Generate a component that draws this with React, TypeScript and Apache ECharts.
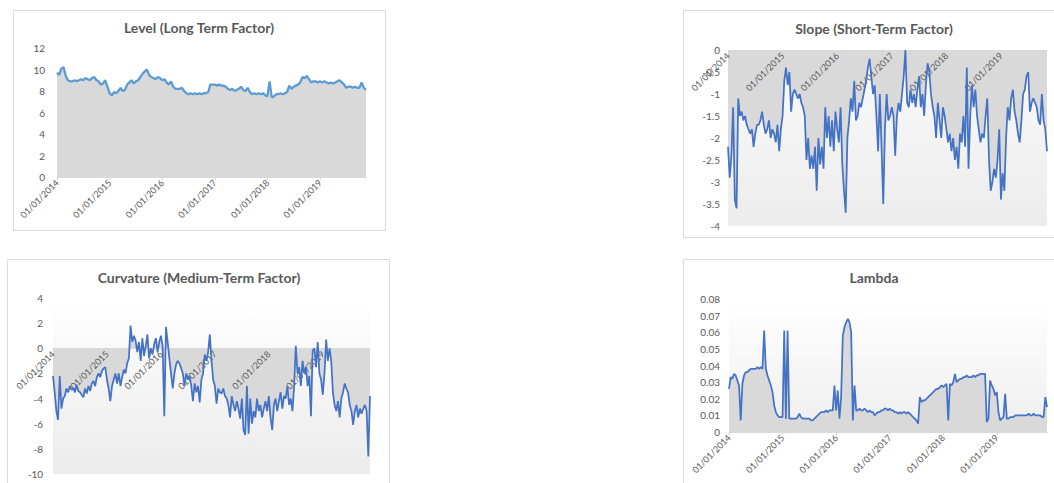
import React, { useEffect, useRef } from "react";
import * as echarts from "echarts";

const START_YEAR = 2014;
const YEAR_TICKS = [2014, 2015, 2016, 2017, 2018, 2019];

const LEVEL_PER_YEAR = 24;
const levelValues = [
  // 2014
  9.7, 9.5, 10.1, 10.2, 9.4, 9.0, 8.9, 8.9, 9.0, 8.9, 9.0, 9.1, 9.0, 9.2, 9.1, 9.0, 9.2, 9.3, 9.0, 8.9, 8.6, 8.7, 9.0, 8.4,
  // 2015
  7.8, 7.6, 7.9, 7.8, 8.0, 8.3, 8.0, 8.1, 8.6, 8.8, 9.0, 8.7, 8.9, 9.0, 9.3, 9.6, 9.8, 10.0, 9.5, 9.3, 9.2, 9.1, 9.3, 9.2,
  // 2016
  9.0, 9.1, 8.8, 8.6, 8.9, 8.4, 8.2, 8.2, 8.2, 8.3, 8.0, 7.8, 7.7, 7.8, 7.7, 7.8, 7.7, 7.8, 7.7, 7.8, 7.8, 7.9, 8.6, 8.6,
  // 2017
  8.6, 8.5, 8.6, 8.5, 8.5, 8.4, 8.2, 8.1, 8.2, 8.0, 8.1, 8.2, 8.4, 8.1, 8.0, 8.3, 7.9, 7.7, 7.8, 7.7, 7.8, 7.7, 7.8, 7.6,
  // 2018
  7.5, 8.9, 7.4, 7.5, 7.7, 7.7, 7.8, 7.7, 7.8, 7.9, 8.5, 8.2, 8.4, 8.5, 8.6, 8.8, 9.3, 9.2, 9.4, 9.1, 8.8, 8.9, 8.9, 8.8,
  // 2019
  8.9, 8.8, 8.9, 8.8, 8.7, 8.8, 8.7, 8.8, 8.9, 9.0, 8.8, 8.6, 8.3, 8.4, 8.4, 8.3, 8.4, 8.3, 8.3, 8.8, 8.3, 8.1,
];

const SLOPE_PER_YEAR = 32;
const slopeValues = [
  // 2014
  -2.2, -2.9, -2.4, -1.3, -3.4, -3.6, -1.1, -1.5, -1.4, -1.6, -1.5, -1.7, -1.8, -1.9, -1.8, -2.2,
  -1.9, -1.7, -1.7, -1.6, -1.4, -1.7, -1.9, -1.8, -1.6, -2.0, -1.8, -1.9, -2.1, -1.7, -2.3, -1.8,
  // 2015
  -1.5, -0.7, -0.4, -0.8, -0.5, -1.4, -1.0, -0.9, -1.0, -1.1, -1.0, -1.2, -1.3, -1.5, -2.5, -2.0,
  -2.7, -2.4, -2.7, -2.2, -3.2, -2.0, -2.6, -2.2, -2.7, -1.3, -2.0, -1.5, -2.2, -1.6, -2.3, -1.4,
  // 2016
  -1.8, -2.1, -1.3, -2.6, -3.2, -3.7, -2.0, -1.6, -1.1, -1.4, -0.7, -1.6, -1.5, -1.2, -1.3, -1.1,
  -0.9, -0.7, -0.4, -0.2, -0.6, -1.0, -0.8, -1.5, -2.3, -1.0, -2.2, -3.5, -1.8, -1.0, -1.6, -1.5,
  // 2017
  -1.3, -1.5, -2.4, -1.5, -1.2, -1.4, -1.0, -0.6, 0.0, -1.2, -1.3, -0.9, -1.2, -1.0, -1.3, -0.9,
  -0.6, -1.3, -1.0, -1.5, -0.8, -0.3, -0.5, -1.0, -1.3, -1.5, -2.0, -1.2, -1.6, -2.0, -1.3, -1.5,
  // 2018
  -1.8, -2.1, -1.9, -2.3, -2.0, -2.5, -2.2, -2.7, -1.9, -2.1, -1.5, -2.2, -0.4, -2.7, -1.5, -0.8,
  -1.3, -0.9, -1.5, -1.8, -2.1, -1.9, -2.0, -1.5, -1.1, -2.5, -3.2, -3.0, -2.7, -2.9, -2.5, -1.8,
  // 2019
  -3.4, -2.8, -3.2, -2.0, -1.3, -1.6, -1.1, -0.9, -1.4, -1.6, -1.9, -2.1, -1.6, -1.0,
  -0.9, -0.6, -0.5, -1.4, -1.2, -1.1, -1.2, -1.3, -1.6, -1.7, -1.0, -1.6, -1.8, -2.3,
];

const CURV_PER_YEAR = 32;
const curvatureValues = [
  // 2014
  -2.2, -3.5, -5.0, -5.7, -2.2, -4.8, -4.0, -3.8, -3.2, -3.5, -3.0, -3.3, -3.2, -3.5, -2.9, -3.4,
  -3.5, -3.7, -3.9, -3.2, -3.6, -3.0, -3.4, -2.8, -2.6, -3.0, -2.3, -2.0, -2.3, -1.8, -1.6, -1.5,
  // 2015
  -2.5, -3.2, -4.2, -3.0, -2.5, -2.0, -2.8, -2.0, -3.0, -2.3, -1.7, -2.0, -1.2, -0.8, 1.8, 0.5,
  1.0, 0.6, -0.3, 0.5, -1.0, 0.8, -0.6, 0.2, 1.1, -0.8, 0.0, -0.5, 0.3, 0.8, -0.3, 0.5,
  // 2016
  1.0, 0.2, -5.4, 1.7, 0.5, -0.8, -2.0, -3.2, -2.0, -1.3, -1.0, -1.2, -1.6, -2.0, -3.0, -2.0,
  -2.5, -2.2, -3.0, -4.2, -2.8, -3.5, -3.0, -4.3, -2.5, -2.0, -0.5, -1.0, -0.3, 1.1, -1.0, -2.5,
  // 2017
  -3.0, -4.4, -3.2, -3.5, -3.6, -3.2, -3.8, -4.0, -4.5, -5.5, -3.8, -4.5, -5.0, -4.2, -4.8, -5.6,
  -4.0, -6.5, -6.9, -3.0, -6.8, -4.0, -6.0, -5.0, -5.5, -4.0, -5.0, -4.5, -5.5, -4.8, -4.2, -5.0,
  // 2018
  -3.8, -5.5, -6.5, -4.5, -4.0, -5.0, -4.2, -3.5, -4.8, -3.8, -4.0, -3.0, -4.5, -4.0, -5.0, -3.0,
  0.2, -2.0, -1.5, -3.0, -1.0, -2.0, -1.5, -3.0, -2.2, -5.4, -0.2, 0.0, -1.5, 0.5, -2.0, -2.5,
  // 2019
  -3.7, -2.0, 0.7, -1.0, 0.0, -1.0, -3.5, -4.5, -5.0, -4.2, -5.5, -4.0, -3.5, -2.8, -3.2,
  -3.5, -4.5, -5.0, -6.1, -5.0, -4.5, -5.5, -4.8, -5.2, -4.8, -4.5, -5.0, -8.6, -3.8,
];

const LAMBDA_PER_YEAR = 32;
const lambdaValues = [
  // 2014
  0.026, 0.033, 0.032, 0.035, 0.034, 0.031, 0.028, 0.007, 0.029, 0.034, 0.036, 0.036, 0.037, 0.038, 0.038, 0.038,
  0.038, 0.039, 0.038, 0.039, 0.038, 0.061, 0.038, 0.034, 0.031, 0.028, 0.024, 0.016, 0.012, 0.010, 0.009, 0.009,
  // 2015
  0.009, 0.061, 0.008, 0.061, 0.008, 0.008, 0.008, 0.008, 0.008, 0.009, 0.011, 0.009, 0.008, 0.008, 0.008, 0.008,
  0.008, 0.007, 0.007, 0.008, 0.009, 0.010, 0.011, 0.012, 0.012, 0.012, 0.013, 0.012, 0.013, 0.013, 0.013, 0.028,
  // 2016
  0.013, 0.025, 0.008, 0.021, 0.058, 0.063, 0.066, 0.068, 0.066, 0.060, 0.007, 0.028, 0.013, 0.013, 0.014, 0.013,
  0.013, 0.014, 0.013, 0.012, 0.013, 0.012, 0.012, 0.010, 0.011, 0.012, 0.012, 0.013, 0.013, 0.014, 0.014, 0.013,
  // 2017
  0.014, 0.013, 0.013, 0.012, 0.012, 0.011, 0.012, 0.011, 0.012, 0.012, 0.011, 0.012, 0.011, 0.010, 0.009, 0.008,
  0.007, 0.005, 0.021, 0.018, 0.019, 0.019, 0.020, 0.021, 0.022, 0.023, 0.024, 0.025, 0.026, 0.026, 0.027, 0.028,
  // 2018
  0.027, 0.028, 0.029, 0.007, 0.029, 0.028, 0.030, 0.035, 0.030, 0.031, 0.032, 0.032, 0.033, 0.033, 0.034, 0.033,
  0.033, 0.033, 0.034, 0.033, 0.034, 0.034, 0.035, 0.035, 0.035, 0.035, 0.006, 0.008, 0.031, 0.028, 0.026, 0.022,
  // 2019
  0.024, 0.012, 0.007, 0.008, 0.009, 0.023, 0.008, 0.008, 0.009, 0.009, 0.009, 0.010, 0.010, 0.010, 0.010, 0.010,
  0.010, 0.010, 0.010, 0.011, 0.010, 0.010, 0.011, 0.010, 0.010, 0.010, 0.010, 0.009, 0.009, 0.021, 0.015,
];

const TITLES = [
  "Level (Long Term Factor)",
  "Slope (Short-Term Factor)",
  "Curvature (Medium-Term Factor)",
  "Lambda",
];

// ---- Styling / layout ----
const FONT = "Lato, 'Open Sans', 'Noto Sans', sans-serif";
const TEXT_COLOR = "#595959";
const BORDER = "#d9d9d9";
const AREA = "#d9d9d9";

function toXY(values: number[], perYear: number) {
  return values.map((v, i) => [START_YEAR + i / perYear, v]);
}

function bgGradient(top: string, bottom: string) {
  return new echarts.graphic.LinearGradient(0, 0, 0, 1, [
    { offset: 0, color: top },
    { offset: 1, color: bottom },
  ]);
}

const yearLabel = (v: number) =>
  YEAR_TICKS.includes(Math.round(v)) && Math.abs(v - Math.round(v)) < 1e-6
    ? "01/01/" + Math.round(v)
    : "";

export default function App() {
  const ref = useRef<HTMLDivElement>(null);

  useEffect(() => {
    if (!ref.current) return;
    const chart = echarts.init(ref.current, undefined, { renderer: "svg" });

    const panels = [
      {
        grid: { left: 57, top: 48, width: 309, height: 129 },
        y: { min: 0, max: 12, interval: 2, margin: 12 },
        data: toXY(levelValues, LEVEL_PER_YEAR),
        color: "#5b9bd5",
        width: 2.25,
        bg: null as any,
      },
      {
        grid: { left: 728, top: 50, width: 319, height: 176 },
        y: { min: -4, max: 0, interval: 0.5, margin: 8 },
        data: toXY(slopeValues, SLOPE_PER_YEAR),
        color: "#4472c4",
        width: 1.75,
        bg: bgGradient("#fafafa", "#ececec"),
      },
      {
        grid: { left: 53, top: 298, width: 317, height: 176 },
        y: { min: -10, max: 4, interval: 2, margin: 10 },
        data: toXY(curvatureValues, CURV_PER_YEAR),
        color: "#4472c4",
        width: 1.75,
        bg: bgGradient("#ffffff", "#ebebeb"),
      },
      {
        grid: { left: 729, top: 299, width: 318, height: 133 },
        y: { min: 0, max: 0.08, interval: 0.01, margin: 9 },
        data: toXY(lambdaValues, LAMBDA_PER_YEAR),
        color: "#4472c4",
        width: 1.75,
        bg: bgGradient("#ffffff", "#eeeeee"),
      },
    ];

    // the horizontal axis sits at value 0 (Excel "axis crosses at 0")
    const zeroY = panels.map(
      (p) => p.grid.top + (p.grid.height * p.y.max) / (p.y.max - p.y.min)
    );
    const xMax = panels.map((p) => p.data[p.data.length - 1][0]);

    const boxes = [
      { x: 13.5, y: 10.5, w: 372, h: 220 },
      { x: 683.5, y: 10.5, w: 400, h: 227 },
      { x: 7.5, y: 259.5, w: 382, h: 260 },
      { x: 683.5, y: 259.5, w: 400, h: 260 },
    ];
    const titlePos = [
      [199, 27],
      [874, 28],
      [199, 277],
      [874, 277],
    ];

    const mainGrids = panels.map((p) => ({
      ...p.grid,
      containLabel: false,
      outerBoundsMode: "none",
      show: !!p.bg,
      backgroundColor: p.bg || "transparent",
      borderWidth: 0,
    }));
    // thin strips whose bottom edge is the zero line: they carry the date axis
    const axisGrids = panels.map((p, k) => ({
      left: p.grid.left,
      width: p.grid.width,
      top: zeroY[k] - 10,
      height: 10,
      containLabel: false,
      outerBoundsMode: "none",
      show: false,
    }));

    const hiddenX = panels.map((p, k) => ({
      type: "value",
      gridIndex: k,
      min: START_YEAR,
      max: xMax[k],
      interval: 1,
      show: false,
    }));
    const dateAxes = panels.map((p, k) => ({
      type: "value",
      gridIndex: 4 + k,
      position: "bottom",
      z: 20,
      min: START_YEAR,
      max: xMax[k],
      interval: 1,
      axisLine: { show: true, onZero: false, lineStyle: { color: BORDER, width: 1 } },
      axisTick: { show: true, length: 3, lineStyle: { color: BORDER } },
      splitLine: { show: false },
      axisLabel: {
        rotate: 45,
        margin: 4,
        fontSize: 9,
        fontFamily: FONT,
        color: TEXT_COLOR,
        showMaxLabel: false,
        hideOverlap: false,
        formatter: yearLabel,
      },
    }));

    const valueAxes = panels.map((p, k) => ({
      type: "value",
      gridIndex: k,
      min: p.y.min,
      max: p.y.max,
      interval: p.y.interval,
      axisLine: { show: false, onZero: false },
      axisTick: { show: false },
      splitLine: { show: false },
      axisLabel: {
        margin: p.y.margin,
        fontSize: 10,
        fontFamily: FONT,
        color: TEXT_COLOR,
      },
    }));
    const stripY = panels.map((p, k) => ({
      type: "value",
      gridIndex: 4 + k,
      min: 0,
      max: 1,
      show: false,
    }));

    // area fill under the axis labels, the line above them (as in the original)
    const areaSeries = panels.map((p, k) => ({
      type: "line",
      name: TITLES[k] + " area",
      xAxisIndex: k,
      yAxisIndex: k,
      z: 1,
      data: p.data,
      showSymbol: false,
      symbol: "none",
      lineStyle: { width: 0, opacity: 0 },
      itemStyle: { color: AREA },
      areaStyle: { color: AREA, opacity: 1 },
      silent: true,
    }));
    const lineSeries = panels.map((p, k) => ({
      type: "line",
      name: TITLES[k],
      xAxisIndex: k,
      yAxisIndex: k,
      z: 30,
      data: p.data,
      showSymbol: false,
      symbol: "none",
      lineStyle: { color: p.color, width: p.width },
      itemStyle: { color: p.color },
    }));

    const option: any = {
      animation: false,
      backgroundColor: "#ffffff",
      grid: [...mainGrids, ...axisGrids],
      xAxis: [...hiddenX, ...dateAxes],
      yAxis: [...valueAxes, ...stripY],
      series: [...areaSeries, ...lineSeries],
      graphic: [
        ...boxes.map((b) => ({
          type: "rect",
          silent: true,
          z: -10,
          shape: { x: b.x, y: b.y, width: b.w, height: b.h },
          style: { fill: "none", stroke: BORDER, lineWidth: 1 },
        })),
        ...TITLES.map((t, k) => ({
          type: "text",
          silent: true,
          x: titlePos[k][0],
          y: titlePos[k][1],
          style: {
            text: t,
            align: "center",
            verticalAlign: "middle",
            fontSize: 14,
            fontWeight: "bold",
            fontFamily: FONT,
            fill: TEXT_COLOR,
          },
        })),
      ],
    };

    chart.setOption(option);
    return () => chart.dispose();
  }, []);

  return (
    <div
      ref={ref}
      style={{ position: "absolute", left: 0, top: 0, width: 1054, height: 483 }}
    />
  );
}
